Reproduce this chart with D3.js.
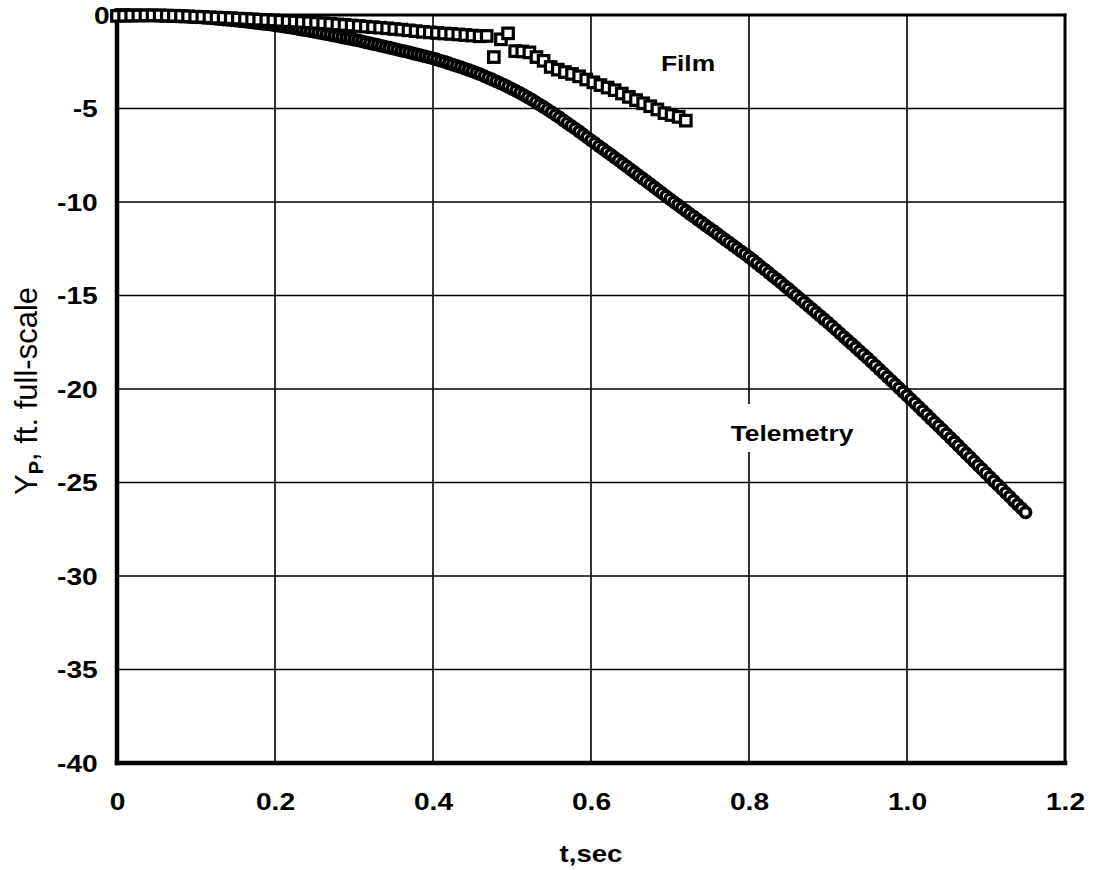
<!DOCTYPE html>
<html>
<head>
<meta charset="utf-8">
<script src="https://cdn.jsdelivr.net/npm/d3@7"></script>
<style>
  html, body { margin: 0; padding: 0; background: #fff; }
  svg { display: block; }
</style>
</head>
<body>
<svg id="chart" width="1094" height="870"></svg>
<script>
// Axis ticks
const xTicks = [0, 0.2, 0.4, 0.6, 0.8, 1.0, 1.2];
const xTickLabels = ["0", "0.2", "0.4", "0.6", "0.8", "1.0", "1.2"];
const yTicks = [0, -5, -10, -15, -20, -25, -30, -35, -40];
const yTickLabels = ["0", "-5", "-10", "-15", "-20", "-25", "-30", "-35", "-40"];

// Telemetry: time (s) and lateral position Y_P (ft, full-scale)
const telemetryT = [
  0.000,0.005,0.010,0.015,0.020,0.025,0.030,0.035,0.040,0.045,
  0.050,0.055,0.060,0.065,0.070,0.075,0.080,0.085,0.090,0.095,
  0.100,0.105,0.110,0.115,0.120,0.125,0.130,0.135,0.140,0.145,
  0.150,0.155,0.160,0.165,0.170,0.175,0.180,0.185,0.190,0.195,
  0.200,0.205,0.210,0.215,0.220,0.225,0.230,0.235,0.240,0.245,
  0.250,0.255,0.260,0.265,0.270,0.275,0.280,0.285,0.290,0.295,
  0.300,0.305,0.310,0.315,0.320,0.325,0.330,0.335,0.340,0.345,
  0.350,0.355,0.360,0.365,0.370,0.375,0.380,0.385,0.390,0.395,
  0.400,0.405,0.410,0.415,0.420,0.425,0.430,0.435,0.440,0.445,
  0.450,0.455,0.460,0.465,0.470,0.475,0.480,0.485,0.490,0.495,
  0.500,0.505,0.510,0.515,0.520,0.525,0.530,0.535,0.540,0.545,
  0.550,0.555,0.560,0.565,0.570,0.575,0.580,0.585,0.590,0.595,
  0.600,0.605,0.610,0.615,0.620,0.625,0.630,0.635,0.640,0.645,
  0.650,0.655,0.660,0.665,0.670,0.675,0.680,0.685,0.690,0.695,
  0.700,0.705,0.710,0.715,0.720,0.725,0.730,0.735,0.740,0.745,
  0.750,0.755,0.760,0.765,0.770,0.775,0.780,0.785,0.790,0.795,
  0.800,0.805,0.810,0.815,0.820,0.825,0.830,0.835,0.840,0.845,
  0.850,0.855,0.860,0.865,0.870,0.875,0.880,0.885,0.890,0.895,
  0.900,0.905,0.910,0.915,0.920,0.925,0.930,0.935,0.940,0.945,
  0.950,0.955,0.960,0.965,0.970,0.975,0.980,0.985,0.990,0.995,
  1.000,1.005,1.010,1.015,1.020,1.025,1.030,1.035,1.040,1.045,
  1.050,1.055,1.060,1.065,1.070,1.075,1.080,1.085,1.090,1.095,
  1.100,1.105,1.110,1.115,1.120,1.125,1.130,1.135,1.140,1.145,
  1.150
];
const telemetryY = [
  0.00,0.00,0.00,0.00,-0.01,-0.01,-0.01,-0.02,-0.02,-0.02,
  -0.03,-0.04,-0.04,-0.05,-0.06,-0.07,-0.08,-0.09,-0.10,-0.11,
  -0.12,-0.13,-0.15,-0.16,-0.18,-0.20,-0.22,-0.24,-0.26,-0.28,
  -0.30,-0.32,-0.34,-0.37,-0.39,-0.42,-0.44,-0.47,-0.49,-0.52,
  -0.55,-0.58,-0.61,-0.65,-0.68,-0.72,-0.75,-0.79,-0.82,-0.86,
  -0.90,-0.94,-0.98,-1.02,-1.06,-1.10,-1.14,-1.19,-1.23,-1.27,
  -1.32,-1.36,-1.41,-1.46,-1.51,-1.56,-1.60,-1.65,-1.70,-1.75,
  -1.80,-1.85,-1.90,-1.95,-2.00,-2.06,-2.11,-2.16,-2.21,-2.27,
  -2.32,-2.38,-2.45,-2.51,-2.58,-2.65,-2.72,-2.79,-2.87,-2.94,
  -3.02,-3.10,-3.18,-3.27,-3.36,-3.45,-3.55,-3.64,-3.74,-3.84,
  -3.95,-4.06,-4.17,-4.29,-4.41,-4.53,-4.66,-4.79,-4.92,-5.06,
  -5.20,-5.34,-5.48,-5.63,-5.78,-5.93,-6.08,-6.23,-6.39,-6.54,
  -6.70,-6.85,-7.01,-7.16,-7.32,-7.47,-7.63,-7.78,-7.94,-8.09,
  -8.25,-8.41,-8.57,-8.73,-8.89,-9.05,-9.21,-9.37,-9.53,-9.69,
  -9.85,-10.01,-10.16,-10.32,-10.47,-10.63,-10.78,-10.94,-11.09,-11.25,
  -11.40,-11.55,-11.71,-11.86,-12.02,-12.17,-12.33,-12.48,-12.64,-12.79,
  -12.95,-13.11,-13.28,-13.45,-13.62,-13.79,-13.96,-14.13,-14.30,-14.48,
  -14.65,-14.83,-15.01,-15.19,-15.37,-15.55,-15.73,-15.91,-16.09,-16.27,
  -16.45,-16.64,-16.83,-17.02,-17.21,-17.40,-17.59,-17.78,-17.97,-18.16,
  -18.35,-18.55,-18.75,-18.95,-19.15,-19.35,-19.55,-19.75,-19.95,-20.15,
  -20.35,-20.55,-20.76,-20.96,-21.17,-21.37,-21.58,-21.78,-21.99,-22.19,
  -22.40,-22.61,-22.82,-23.03,-23.24,-23.45,-23.66,-23.87,-24.08,-24.29,
  -24.50,-24.71,-24.92,-25.13,-25.34,-25.55,-25.76,-25.97,-26.18,-26.39,
  -26.60
];

// Film: time (s) and lateral position Y_P (ft, full-scale)
const filmT = [
  0.000,0.009,0.018,0.027,0.036,0.045,0.054,0.063,0.072,0.081,
  0.090,0.099,0.108,0.117,0.126,0.135,0.144,0.153,0.162,0.171,
  0.180,0.189,0.198,0.207,0.216,0.225,0.234,0.243,0.252,0.261,
  0.270,0.279,0.288,0.297,0.306,0.315,0.324,0.333,0.342,0.351,
  0.360,0.369,0.378,0.387,0.396,0.405,0.414,0.423,0.432,0.441,
  0.450,0.459,0.468,0.477,0.486,0.495,0.504,0.513,0.522,0.531,
  0.540,0.549,0.558,0.567,0.576,0.585,0.594,0.603,0.612,0.621,
  0.630,0.639,0.648,0.657,0.666,0.675,0.684,0.693,0.702,0.711,
  0.720
];
const filmY = [
  -0.05,-0.04,-0.03,-0.03,-0.02,-0.02,-0.02,-0.03,-0.04,-0.05,
  -0.07,-0.09,-0.10,-0.12,-0.14,-0.15,-0.17,-0.19,-0.21,-0.23,
  -0.25,-0.27,-0.29,-0.31,-0.33,-0.35,-0.37,-0.39,-0.42,-0.44,
  -0.47,-0.50,-0.53,-0.56,-0.59,-0.62,-0.65,-0.68,-0.71,-0.75,
  -0.78,-0.82,-0.86,-0.90,-0.93,-0.96,-0.99,-1.01,-1.04,-1.07,
  -1.10,-1.14,-1.12,-2.25,-1.30,-0.98,-1.93,-1.95,-2.00,-2.25,
  -2.45,-2.78,-2.92,-3.05,-3.15,-3.28,-3.45,-3.60,-3.75,-3.88,
  -4.02,-4.20,-4.38,-4.55,-4.72,-4.88,-5.05,-5.25,-5.35,-5.45,
  -5.65
];

const telemetry = telemetryT.map((t, i) => ({ t, y: telemetryY[i] }));
const film = filmT.map((t, i) => ({ t, y: filmY[i] }));

const plotLeft = 117, plotRight = 1065, plotTop = 15, plotBottom = 763;
const svg = d3.select("#chart");

const x = d3.scaleLinear().domain([0, 1.2]).range([plotLeft, plotRight]);
const y = d3.scaleLinear().domain([-40, 0]).range([plotBottom, plotTop]);

const FONT = "'Liberation Sans', Arial, Helvetica, sans-serif";
const STRETCH = 1.2;

// Grid lines
const grid = svg.append("g").attr("stroke", "#000").attr("stroke-width", 1.6);
grid.selectAll("line.v").data(xTicks.slice(1, -1)).join("line")
  .attr("class", "v")
  .attr("x1", d => x(d)).attr("x2", d => x(d))
  .attr("y1", plotTop).attr("y2", plotBottom);
grid.selectAll("line.h").data(yTicks.slice(1, -1)).join("line")
  .attr("class", "h")
  .attr("x1", plotLeft).attr("x2", plotRight)
  .attr("y1", d => y(d)).attr("y2", d => y(d));

// White box behind the Telemetry label
svg.append("rect")
  .attr("x", 726).attr("y", 404).attr("width", 132).attr("height", 48)
  .attr("fill", "#fff");

// Frame
const frame = svg.append("g").attr("stroke", "#000").attr("stroke-linecap", "square");
frame.append("line").attr("x1", plotLeft).attr("x2", plotRight).attr("y1", plotTop).attr("y2", plotTop).attr("stroke-width", 3);
frame.append("line").attr("x1", plotRight).attr("x2", plotRight).attr("y1", plotTop).attr("y2", plotBottom).attr("stroke-width", 3);
frame.append("line").attr("x1", plotLeft).attr("x2", plotLeft).attr("y1", plotTop).attr("y2", plotBottom).attr("stroke-width", 4.5);
frame.append("line").attr("x1", plotLeft).attr("x2", plotRight).attr("y1", plotBottom).attr("y2", plotBottom).attr("stroke-width", 4.5);

// Axes (labels only)
const xAxis = d3.axisBottom(x)
  .tickValues(xTicks)
  .tickFormat((d, i) => xTickLabels[i])
  .tickSize(0);
const gx = svg.append("g").attr("transform", `translate(0,${plotBottom})`).call(xAxis);
gx.select(".domain").remove();
gx.selectAll("text")
  .attr("y", 47).attr("dy", null)
  .attr("fill", "#000")
  .attr("font-family", FONT).attr("font-weight", "bold").attr("font-size", 23.5)
  .attr("transform", `scale(${STRETCH},1)`);

const yAxis = d3.axisLeft(y)
  .tickValues(yTicks)
  .tickFormat((d, i) => yTickLabels[i])
  .tickSize(0);
const gy = svg.append("g").attr("transform", `translate(${plotLeft},0)`).call(yAxis);
gy.select(".domain").remove();
gy.selectAll("text")
  .attr("x", d => d === 0 ? -6 : -16).attr("dy", "0.36em")
  .attr("fill", "#000")
  .attr("font-family", FONT).attr("font-weight", "bold").attr("font-size", 23.5)
  .attr("transform", `scale(${STRETCH},1)`);

// Axis titles
svg.append("text")
  .attr("transform", `translate(${x(0.6)},862) scale(${STRETCH},1)`)
  .attr("text-anchor", "middle")
  .attr("font-family", FONT).attr("font-weight", "bold").attr("font-size", 23)
  .text("t,sec");

const yTitle = svg.append("text")
  .attr("transform", `translate(37,${(plotTop + plotBottom) / 2 + 2}) rotate(-90)`)
  .attr("text-anchor", "middle")
  .attr("font-family", FONT).attr("font-size", 31);
yTitle.append("tspan").text("Y");
yTitle.append("tspan").attr("font-size", 20).attr("dy", 6).attr("font-weight", "bold").text("P");
yTitle.append("tspan").attr("dy", -6).text(", ft. full-scale");

// Telemetry series: open circles
svg.append("g").selectAll("circle").data(telemetry).join("circle")
  .attr("cx", d => x(d.t)).attr("cy", d => y(d.y))
  .attr("r", 5)
  .attr("fill", "#fff").attr("stroke", "#000").attr("stroke-width", 3.8);

// Film series: open squares
const sq = 10.5;
svg.append("g").selectAll("rect").data(film).join("rect")
  .attr("x", d => x(d.t) - sq / 2).attr("y", d => y(d.y) - sq / 2)
  .attr("width", sq).attr("height", sq)
  .attr("fill", "#fff").attr("stroke", "#000").attr("stroke-width", 3.2);

// Series labels
svg.append("text")
  .attr("transform", `translate(688,71) scale(${STRETCH},1)`)
  .attr("text-anchor", "middle")
  .attr("font-family", FONT).attr("font-weight", "bold").attr("font-size", 22)
  .text("Film");
svg.append("text")
  .attr("transform", `translate(792,441) scale(${STRETCH},1)`)
  .attr("text-anchor", "middle")
  .attr("font-family", FONT).attr("font-weight", "bold").attr("font-size", 22)
  .text("Telemetry");
</script>
</body>
</html>
